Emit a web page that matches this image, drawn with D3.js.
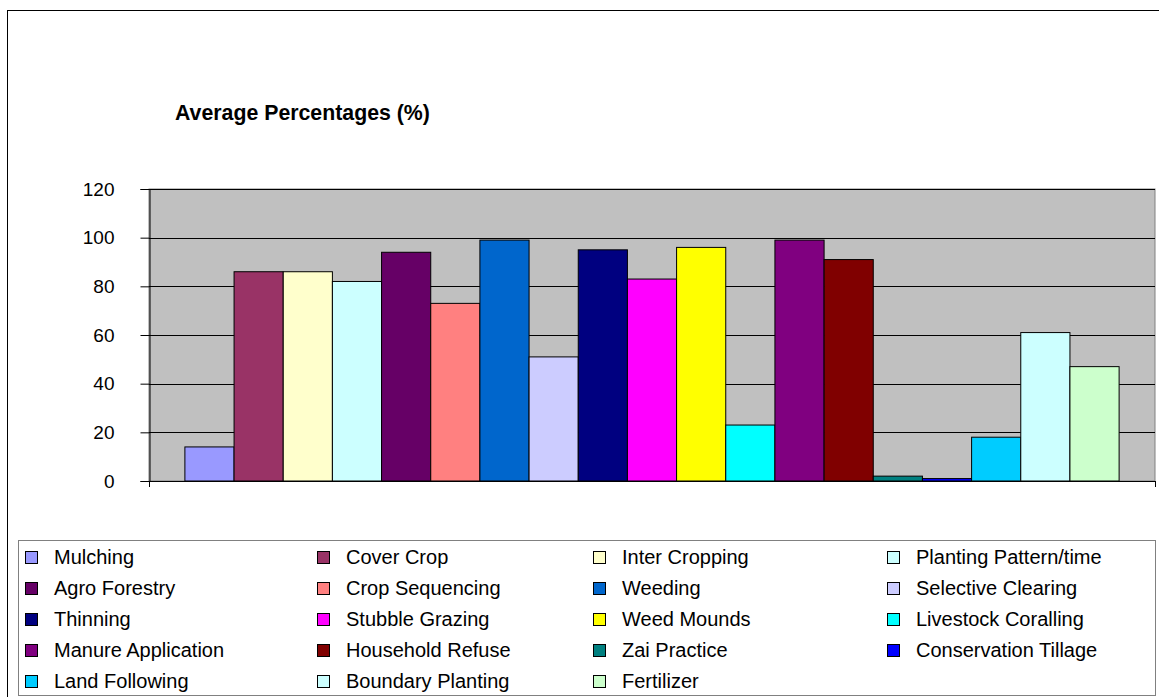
<!DOCTYPE html>
<html>
<head>
<meta charset="utf-8">
<script src="https://cdn.jsdelivr.net/npm/d3@7"></script>
<style>
  body { margin: 0; background: #fff; }
  svg { display: block; font-family: "Liberation Sans", Arial, sans-serif; }
</style>
</head>
<body>
<svg width="1159" height="697"></svg>
<script>
// datos
const practicas = ["Mulching", "Cover Crop", "Inter Cropping", "Planting Pattern/time",
  "Agro Forestry", "Crop Sequencing", "Weeding", "Selective Clearing",
  "Thinning", "Stubble Grazing", "Weed Mounds", "Livestock Coralling",
  "Manure Application", "Household Refuse", "Zai Practice", "Conservation Tillage",
  "Land Following", "Boundary Planting", "Fertilizer"];
const porcentajes = [14, 86, 86, 82, 94, 73, 99, 51, 95, 83, 96, 23, 99, 91, 2, 1, 18, 61, 47];
const colores = ["#9999FF", "#993366", "#FFFFCC", "#CCFFFF", "#660066", "#FF8080", "#0066CC", "#CCCCFF",
  "#000080", "#FF00FF", "#FFFF00", "#00FFFF", "#800080", "#800000", "#008080", "#0000FF",
  "#00CCFF", "#CCFFFF", "#CCFFCC"];
const ticksY = [0, 20, 40, 60, 80, 100, 120];
const titulo = "Average Percentages (%)";

const svg = d3.select("svg");

// marco exterior
svg.append("rect")
  .attr("x", 7.5).attr("y", 10.5)
  .attr("width", 1170).attr("height", 710)
  .attr("fill", "none").attr("stroke", "#000").attr("stroke-width", 1);

// area del grafico
const izq = 149, der = 1155, arriba = 189, abajo = 481;

const yScale = d3.scaleLinear().domain([0, 120]).range([abajo, arriba]);
const xScale = d3.scaleBand().domain(practicas).range([izq, der])
  .paddingInner(0).paddingOuter(0.73);

svg.append("rect")
  .attr("x", izq).attr("y", arriba)
  .attr("width", der - izq).attr("height", abajo - arriba)
  .attr("fill", "#C0C0C0").attr("stroke", "#808080").attr("stroke-width", 1);

// lineas de cuadricula
svg.append("g")
  .selectAll("line")
  .data(ticksY.filter(d => d > 0))
  .join("line")
  .attr("x1", izq).attr("x2", der)
  .attr("y1", d => Math.round(yScale(d)) + 0.5)
  .attr("y2", d => Math.round(yScale(d)) + 0.5)
  .attr("stroke", "#000").attr("stroke-width", 1);

// barras
svg.append("g")
  .selectAll("rect")
  .data(practicas)
  .join("rect")
  .attr("x", d => xScale(d))
  .attr("y", (d, i) => yScale(porcentajes[i]))
  .attr("width", xScale.bandwidth())
  .attr("height", (d, i) => yScale(0) - yScale(porcentajes[i]))
  .attr("fill", (d, i) => colores[i])
  .attr("stroke", "#000").attr("stroke-width", 1);

// eje y
const ejeY = svg.append("g")
  .attr("transform", `translate(${izq + 0.5},0)`)
  .call(d3.axisLeft(yScale).tickValues(ticksY).tickSize(9).tickPadding(26));
ejeY.select(".domain").attr("stroke", "#000");
ejeY.selectAll(".tick line").attr("stroke", "#000");
ejeY.selectAll("text").attr("font-size", "19px").attr("fill", "#000")
  .attr("font-family", "'Liberation Sans', Arial, sans-serif");

// eje x
svg.append("line")
  .attr("x1", izq).attr("x2", der)
  .attr("y1", abajo + 0.5).attr("y2", abajo + 0.5)
  .attr("stroke", "#000");
[izq, der].forEach(x => {
  svg.append("line")
    .attr("x1", x + 0.5).attr("x2", x + 0.5)
    .attr("y1", abajo).attr("y2", abajo + 6)
    .attr("stroke", "#000");
});

// titulo
svg.append("text")
  .attr("x", 175).attr("y", 120)
  .attr("font-size", "21.3px").attr("font-weight", "bold")
  .text(titulo);

// leyenda
svg.append("rect")
  .attr("x", 18.5).attr("y", 540.5)
  .attr("width", der - 18).attr("height", 155)
  .attr("fill", "#fff").attr("stroke", "#808080");

const columnasX = [54, 346, 622, 916];
const filaY0 = 557, filaPaso = 31;

const items = svg.append("g")
  .selectAll("g")
  .data(practicas)
  .join("g")
  .attr("transform", (d, i) => `translate(${columnasX[i % 4]},${filaY0 + Math.floor(i / 4) * filaPaso})`);

items.append("rect")
  .attr("x", -28.5).attr("y", -5.5)
  .attr("width", 12).attr("height", 12)
  .attr("fill", (d, i) => colores[i])
  .attr("stroke", "#000").attr("stroke-width", 1);

items.append("text")
  .attr("x", 0).attr("y", 0)
  .attr("dy", "0.35em")
  .attr("font-size", "20px")
  .text(d => d);
</script>
</body>
</html>
